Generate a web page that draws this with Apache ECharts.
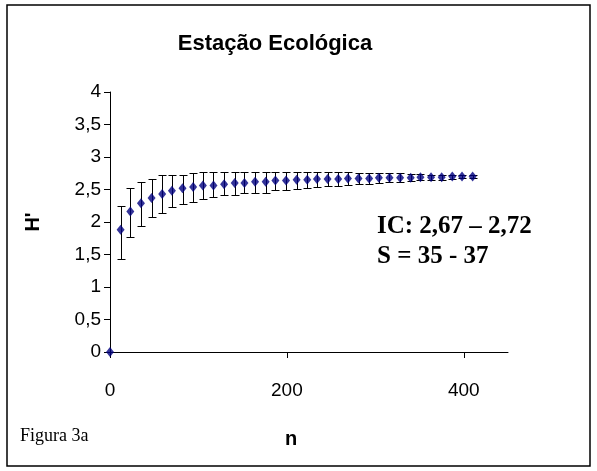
<!DOCTYPE html>
<html>
<head>
<meta charset="utf-8">
<script src="https://cdn.jsdelivr.net/npm/echarts@6/dist/echarts.min.js"></script>
<style>
html,body{margin:0;padding:0;background:#fff;}
#chart{width:597px;height:471px;}
</style>
</head>
<body>
<div id="chart"></div>
<script>
// Sample sizes (n) and Shannon diversity H' with confidence limits
const nValues = [0, 12, 23, 35, 47, 59, 70, 82, 94, 105, 117, 129, 141, 152, 164, 176, 187, 199, 211, 223, 234, 246, 258, 269, 281, 293, 304, 316, 328, 340, 351, 363, 375, 387, 398, 410];
const hValues = [0, 1.88, 2.16, 2.29, 2.37, 2.43, 2.48, 2.52, 2.54, 2.56, 2.56, 2.58, 2.60, 2.60, 2.62, 2.62, 2.64, 2.64, 2.65, 2.65, 2.66, 2.66, 2.66, 2.67, 2.67, 2.67, 2.68, 2.68, 2.68, 2.68, 2.69, 2.69, 2.69, 2.70, 2.70, 2.70];
const lowerValues = [0, 1.43, 1.77, 1.94, 2.07, 2.14, 2.23, 2.27, 2.31, 2.35, 2.38, 2.41, 2.42, 2.45, 2.45, 2.45, 2.50, 2.50, 2.51, 2.52, 2.54, 2.55, 2.56, 2.57, 2.58, 2.59, 2.60, 2.61, 2.62, 2.63, 2.64, 2.65, 2.65, 2.66, 2.67, 2.67];
const upperValues = [0, 2.25, 2.52, 2.62, 2.66, 2.72, 2.72, 2.72, 2.75, 2.77, 2.77, 2.77, 2.77, 2.77, 2.77, 2.77, 2.77, 2.77, 2.77, 2.77, 2.77, 2.77, 2.77, 2.77, 2.76, 2.76, 2.75, 2.75, 2.75, 2.74, 2.74, 2.73, 2.73, 2.73, 2.72, 2.72];
const xTickLabels = [0, 200, 400];
const titleText = 'Estação Ecológica';
const noteLines = ['IC: 2,67 – 2,72', 'S = 35 - 37'];
const figureLabel = 'Figura 3a';

const pointData = nValues.map((n, i) => [n, hValues[i]]);
const errData = nValues.map((n, i) => [n, lowerValues[i], upperValues[i]]).filter(d => d[2] > d[1]);

const chart = echarts.init(document.getElementById('chart'), null, {renderer: 'canvas'});
const sans = 'Liberation Sans, Arial, sans-serif';
const serif = 'Liberation Serif, Times New Roman, serif';

chart.setOption({
  animation: false,
  backgroundColor: '#ffffff',
  title: {
    text: titleText,
    left: 270, top: 28, textAlign: 'center',
    textStyle: {fontFamily: sans, fontSize: 22, fontWeight: 'bold', color: '#000'}
  },
  grid: {left: 110, right: 89, top: 92, bottom: 119, containLabel: false},
  xAxis: {
    type: 'value', min: 0, max: 450, interval: 200,
    axisLine: {show: true, lineStyle: {color: '#000', width: 1}},
    axisTick: {show: true, length: 6, lineStyle: {color: '#000'}, customValues: xTickLabels},
    axisLabel: {customValues: xTickLabels, margin: 29, color: '#000', fontFamily: sans, fontSize: 19},
    splitLine: {show: false}
  },
  yAxis: {
    type: 'value', min: 0, max: 4, interval: 0.5,
    name: "H'", nameLocation: 'middle', nameGap: 67, nameRotate: 90,
    nameTextStyle: {fontFamily: sans, fontSize: 20, fontWeight: 'bold', color: '#000'},
    axisLine: {show: true, lineStyle: {color: '#000', width: 1}},
    axisTick: {show: true, length: 6, lineStyle: {color: '#000'}},
    axisLabel: {margin: 9, color: '#000', fontFamily: sans, fontSize: 19,
      formatter: v => String(v).replace('.', ',')},
    splitLine: {show: false}
  },
  series: [
    {
      type: 'custom',
      data: errData,
      z: 2,
      renderItem: function (params, api) {
        const x = api.value(0);
        const lo = api.coord([x, api.value(1)]);
        const hi = api.coord([x, api.value(2)]);
        const w = 4;
        const cx = Math.round(lo[0]) + 0.5;
        const ly = Math.round(lo[1]) + 0.5;
        const hy = Math.round(hi[1]) + 0.5;
        const style = {stroke: '#000', lineWidth: 1};
        return {
          type: 'group',
          children: [
            {type: 'line', shape: {x1: cx, y1: ly, x2: cx, y2: hy}, style: style},
            {type: 'line', shape: {x1: cx - w, y1: ly, x2: cx + w, y2: ly}, style: style},
            {type: 'line', shape: {x1: cx - w, y1: hy, x2: cx + w, y2: hy}, style: style}
          ]
        };
      }
    },
    {
      type: 'scatter',
      data: pointData,
      symbol: 'diamond',
      symbolSize: [8, 10],
      itemStyle: {color: '#000080'},
      z: 3
    }
  ],
  graphic: [
    {type: 'rect', shape: {x: 7, y: 5, width: 583, height: 461}, style: {fill: null, stroke: '#000', lineWidth: 1.5}, z: 0, silent: true},
    {type: 'text', left: 377, top: 214, style: {text: noteLines[0], fontFamily: serif, fontSize: 25, fontWeight: 'bold', fill: '#000'}},
    {type: 'text', left: 377, top: 244, style: {text: noteLines[1], fontFamily: serif, fontSize: 25, fontWeight: 'bold', fill: '#000'}},
    {type: 'text', left: 20, top: 427, style: {text: figureLabel, fontFamily: serif, fontSize: 18, fill: '#000'}},
    {type: 'text', left: 285, top: 429, style: {text: 'n', fontFamily: sans, fontSize: 20, fontWeight: 'bold', fill: '#000'}}
  ]
});
</script>
</body>
</html>
